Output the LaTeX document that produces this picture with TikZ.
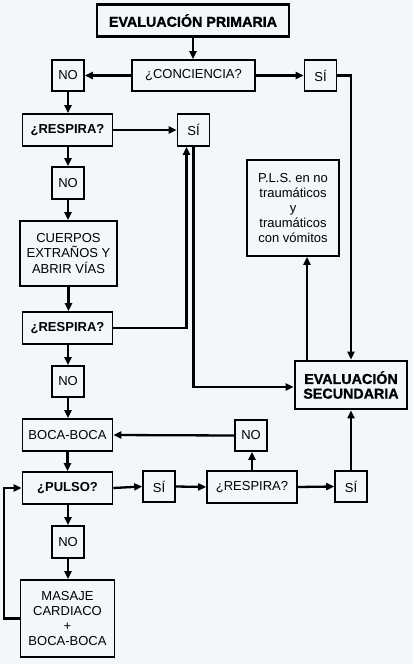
\documentclass[tikz,border=0pt]{standalone}
\usepackage{fontspec}
\setmainfont{Liberation Sans}
\newfontfamily\heavyfont[FakeBold=1.2]{Liberation Sans Bold}
\usetikzlibrary{arrows.meta}
\definecolor{bg}{HTML}{F3F6FA}
\begin{document}
\begin{tikzpicture}[x=1pt,y=-1pt,
  box/.style={draw, line width=1.6pt, inner sep=0pt, align=center, font=\fontsize{13}{15.2}\selectfont},
  bbox/.style={box, font=\fontsize{13}{15.2}\selectfont\bfseries},
  tbox/.style={box, line width=2.8pt, font=\fontsize{14.3}{14.7}\selectfont\heavyfont},
  sq/.style={box, minimum width=32pt, minimum height=31pt},
  arr/.style={line width=2.3pt, -{Triangle[length=8pt,width=7pt]}},
  ln/.style={line width=2.3pt}
]
\fill[bg] (0,0) rectangle (413,664);
\useasboundingbox (0,0) rectangle (413,664);

\node[tbox, minimum width=192pt, minimum height=32pt] (ep) at (193,20.5) {EVALUACIÓN PRIMARIA};
\node[box, minimum width=123pt, minimum height=31pt] (conc) at (193.5,75.5) {¿CONCIENCIA?};
\node[sq] (no1) at (68,75.5) {NO};
\node[sq] (si1) at (320.5,75.5) {SÍ};
\node[bbox, minimum width=90pt, minimum height=32pt] (resp1) at (67.5,130) {¿RESPIRA?};
\node[sq, minimum height=32pt] (si2) at (193.5,130) {SÍ};
\node[sq, minimum height=32pt] (no2) at (68,183) {NO};
\node[box, minimum width=97pt, minimum height=65pt] (cuer) at (68.5,253.5) {CUERPOS\\EXTRAÑOS Y\\ABRIR VÍAS};
\node[bbox, minimum width=90pt, minimum height=32pt] (resp2) at (67.5,328) {¿RESPIRA?};
\node[box, minimum width=92pt, minimum height=96pt] (pls) at (293,208) {P.L.S. en no\\traumáticos\\y\\traumáticos\\con vómitos};
\node[tbox, minimum width=112pt, minimum height=48pt] (es) at (351,385) {EVALUACIÓN\\SECUNDARIA};
\node[sq] (no3) at (68,381.5) {NO};
\node[box, minimum width=90pt, minimum height=32pt] (bb) at (67.5,435) {BOCA-BOCA};
\node[sq] (no4) at (251,435.5) {NO};
\node[bbox, minimum width=90pt, minimum height=32pt] (pulso) at (67.5,488) {¿PULSO?};
\node[sq] (si3) at (159,486.5) {SÍ};
\node[box, minimum width=90pt, minimum height=32pt] (resp3) at (252,487) {¿RESPIRA?};
\node[sq] (si4) at (351,486.5) {SÍ};
\node[sq, minimum height=32pt] (no5) at (68,542) {NO};
\node[box, minimum width=94pt, minimum height=77pt] (mas) at (67.5,618.5) {MASAJE\\CARDIACO\\+\\BOCA-BOCA};

\draw[arr] (ep.south) -- (ep.south |- conc.north);
\draw[arr] (conc.west) -- (no1.east);
\draw[arr] (conc.east) -- (si1.west);
\draw[arr] (si1.east) -| (es.north);
\draw[arr] (no1.south) -- (no1.south |- resp1.north);
\draw[arr] (resp1.east) -- (si2.west);
\draw[arr] (resp1.south -| no2.north) -- (no2.north);
\draw[arr] (no2.south) -- (no2.south |- cuer.north);
\draw[arr] (cuer.south) -- (cuer.south |- resp2.north);
\draw[arr] (resp2.east) -| ([xshift=-7pt]si2.south);
\draw[arr] (si2.south) |- ([yshift=-2pt]es.west);
\draw[arr] ([xshift=-44pt]es.north) -- ([xshift=-44pt]es.north |- pls.south);
\draw[arr] (resp2.south -| no3.north) -- (no3.north);
\draw[arr] (no3.south) -- (no3.south |- bb.north);
\draw[arr] (bb.south) -- (pulso.north);
\draw[arr] (pulso.east) -- (si3.west);
\draw[arr] (si3.east) -- (resp3.west);
\draw[arr] (resp3.east) -- (si4.west);
\draw[arr] (si4.north) -- (es.south);
\draw[arr] (resp3.north) -- (resp3.north |- no4.south);
\draw[arr] (no4.west) -- (bb.east);
\draw[arr] (pulso.south -| no5.north) -- (no5.north);
\draw[arr] (no5.south) -- (no5.south |- mas.north);
\draw[arr] (mas.west) -- ++(-16,0) |- (pulso.west);
\end{tikzpicture}
\end{document}
